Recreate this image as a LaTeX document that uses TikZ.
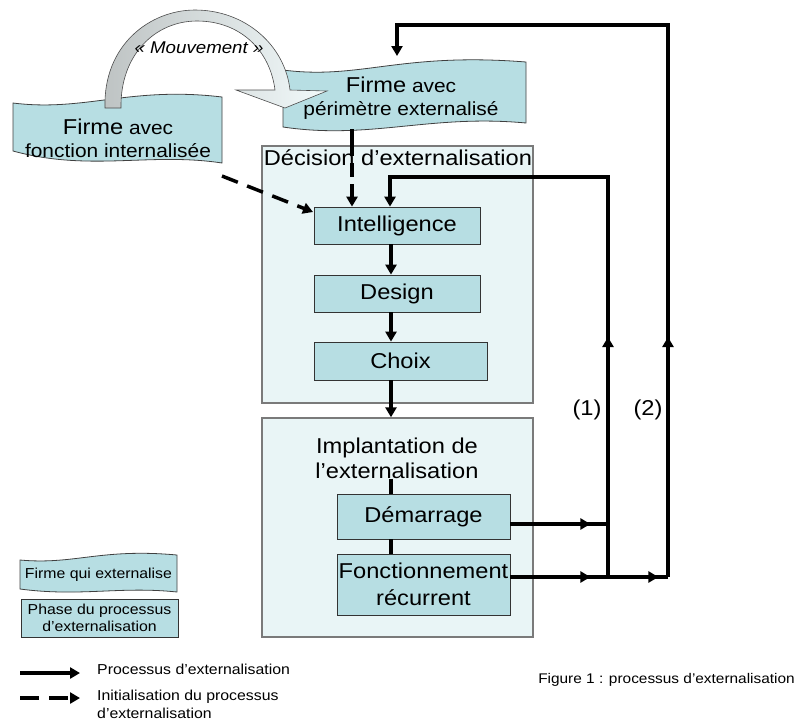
\documentclass[tikz,border=0pt]{standalone}
\usepackage{fontspec}
\setmainfont{Liberation Sans}[FakeStretch=1.1]
\usetikzlibrary{arrows.meta,decorations.markings,calc}
\definecolor{tealbox}{HTML}{B7DEE3}
\definecolor{palebox}{HTML}{E9F5F6}
\definecolor{boxgray}{HTML}{7A7A7A}
\definecolor{arcgray}{HTML}{BEC3C3}
\definecolor{arcpale}{HTML}{F2FAFB}
\newcommand\fsz[1]{\fontsize{#1}{#1}\selectfont}
\begin{document}
\begin{tikzpicture}[x=1pt,y=-1pt,
  phasebox/.style={draw=black!80, line width=0.8pt, fill=tealbox, align=center, inner sep=0pt, font=\fontsize{21.5}{27}\selectfont},
  bigbox/.style={draw=boxgray, line width=1.4pt, fill=palebox, inner sep=0pt},
  bannerfill/.style={draw=black!75, line width=0.8pt, fill=tealbox},
  tip/.tip={Triangle[length=10pt,width=11pt]},
  arr/.style={line width=3.5pt, -tip},
  plainline/.style={line width=3.5pt},
  dasharr/.style={line width=3.5pt, -tip, dash pattern=on 17pt off 10pt},
  lbl/.style={inner sep=0pt, align=center},
  midtip/.style={postaction={decorate}, decoration={markings, mark=at position #1 with {\arrow{tip}}}}
]
\useasboundingbox (0,0) rectangle (798,724);

% wavy banners
\path[bannerfill] (13,103) .. controls (85,112) and (130,86) .. (222,97) -- (222,163) .. controls (150,152) and (90,172) .. (13,151) -- cycle;
\path[bannerfill] (283,70) .. controls (360,80) and (400,52) .. (526,62) -- (526,123) .. controls (430,114) and (370,140) .. (283,127) -- cycle;
\path[bannerfill] (20,560) .. controls (75,565) and (100,548) .. (177,555) -- (177,592) .. controls (120,586) and (80,597) .. (20,589) -- cycle;

% "Mouvement" curved arrow
\shade[left color=arcgray, right color=arcpale, draw=black!70, line width=0.6pt]
  (105,108) .. controls (103,45) and (150,10) .. (195,10) .. controls (245,10) and (285,45) .. (290,90)
  -- (327,91) -- (285,108) -- (236,90) -- (275,90)
  .. controls (270,50) and (240,21) .. (197,21) .. controls (155,21) and (120,55) .. (121,108) -- cycle;
\node[lbl, font=\fsz{17}\itshape] (mvt) at (199,48) {« Mouvement »};

% banner texts
\node[lbl, font=\fontsize{19}{23}\selectfont] (b1) at (118,138) {{\fontsize{21.5}{23}\selectfont Firme} avec\\fonction internalisée};
\node[lbl, font=\fontsize{19}{23}\selectfont] (b2) at (401,98) {{\fontsize{21.5}{23}\selectfont Firme} avec\\périmètre externalisé};

% big phase containers
\node[bigbox, minimum width=271, minimum height=257] (deci) at (397.5,274.5) {};
\node[lbl, font=\fsz{21.5}] (decit) at (398,158) {Décision d’externalisation};
\node[bigbox, minimum width=271, minimum height=219] (impl) at (397.5,527.5) {};
\node[lbl, font=\fontsize{21.5}{25}\selectfont] (implt) at (397,458) {Implantation de\\l’externalisation};

% phase boxes
\node[phasebox, minimum width=166, minimum height=37] (intel) at (397,225.5) {Intelligence};
\node[phasebox, minimum width=166, minimum height=37] (design) at (397,293.5) {Design};
\node[phasebox, minimum width=173, minimum height=38] (choix) at (400.5,361) {Choix};
\node[phasebox, minimum width=173, minimum height=45] (dem) at (423.5,516.5) {Démarrage};
\node[phasebox, minimum width=173, minimum height=61] (fonc) at (423.5,584.5) {Fonctionnement\\récurrent};

% helper coordinates
\coordinate (sp) at (391,0);
\coordinate (vx) at (352,0);
\coordinate (b2bot) at (352,129);
\coordinate (b2top) at (397,56);
\coordinate (d0) at (222,176);
\coordinate (d1) at (313,212);
\coordinate (j1) at (608,524);
\coordinate (j2) at (608,577);
\coordinate (j3) at (668,577);
\coordinate (t1) at (608,177);
\coordinate (l1) at (390,177);
\coordinate (t2) at (668,25);

% main spine
\draw[arr] (intel.south -| sp) -- (design.north -| sp);
\draw[arr] (design.south -| sp) -- (choix.north -| sp);
\draw[arr] (choix.south -| sp) -- (impl.north -| sp);
\draw[plainline] (implt.south -| sp) -- (dem.north -| sp);
\draw[plainline] (dem.south -| sp) -- (fonc.north -| sp);

% initialisation (dashed)
\draw[dasharr] (d0) -- (d1);
\draw[line width=3.5pt, -tip, dash pattern=on 27pt off 7pt on 14pt off 7pt] (b2bot) -- (intel.north -| vx);

% feedback loops
\draw[plainline, midtip=80pt] (dem.east |- j1) -- (j1);
\draw[plainline, postaction={decorate}, decoration={markings, mark=at position 80pt with {\arrow{tip}}, mark=at position 148pt with {\arrow{tip}}}] (fonc.east |- j2) -- (j3);
\draw[arr, midtip=240pt] (j2) -- (t1) -- (l1) -- (intel.north -| l1);
\draw[arr, midtip=240pt] (j3) -- (t2) -| (b2top);

\node[lbl, font=\fsz{21.5}] (lab1) at (587,410) {(1)};
\node[lbl, font=\fsz{21.5}] (lab2) at (648,410) {(2)};

% legend
\node[lbl, font=\fsz{14.4}] (legb) at (98.5,575) {Firme qui externalise};
\node[phasebox, minimum width=157, minimum height=38, font=\fontsize{14.4}{17}\selectfont] (legp) at (99.5,618) {Phase du processus\\d’externalisation};
\coordinate (la0) at (20,673);
\coordinate (la1) at (80,673);
\coordinate (lb0) at (20,698);
\coordinate (lb1) at (80,698);
\draw[arr] (la0) -- (la1);
\draw[line width=3.5pt, -tip, dash pattern=on 19pt off 10pt] (lb0) -- (lb1);
\node[lbl, anchor=west, font=\fsz{14.4}] (lega) at (97,669) {Processus d’externalisation};
\node[lbl, anchor=north west, align=left, font=\fontsize{14.4}{18}\selectfont] (legc) at (97,690) {Initialisation du processus\\d’externalisation};

\node[lbl, font=\fsz{14}] (cap) at (666.5,680) {Figure 1 : processus d’externalisation};
\end{tikzpicture}
\end{document}
